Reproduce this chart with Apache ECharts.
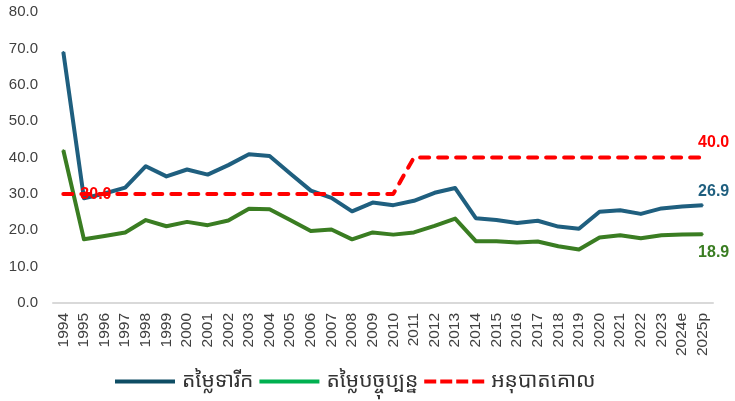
<!DOCTYPE html>
<html><head><meta charset="utf-8">
<script src="https://cdn.jsdelivr.net/npm/echarts@6/dist/echarts.min.js"></script>
<style>html,body{margin:0;padding:0;background:#fff}#c{width:735px;height:401px}</style>
</head><body><div id="c"></div>
<script>
const categories = ['1994','1995','1996','1997','1998','1999','2000','2001','2002','2003','2004','2005','2006','2007','2008','2009','2010','2011','2012','2013','2014','2015','2016','2017','2018','2019','2020','2021','2022','2023','2024e','2025p'];
const marketValues = [69.0,28.8,30.1,31.7,37.6,34.8,36.7,35.3,37.9,40.9,40.4,35.6,30.9,28.9,25.2,27.6,26.9,28.1,30.3,31.6,23.3,22.8,22.0,22.6,21.0,20.4,25.1,25.5,24.5,26.0,26.5,26.9];
const currentValues = [42.0,17.5,18.4,19.4,22.8,21.1,22.3,21.4,22.7,25.9,25.8,22.8,19.8,20.2,17.5,19.4,18.8,19.4,21.2,23.2,17.0,17.0,16.6,16.9,15.6,14.7,18.0,18.6,17.8,18.6,18.8,18.9];
const policyValues = [30,30,30,30,30,30,30,30,30,30,30,30,30,30,30,30,30,40,40,40,40,40,40,40,40,40,40,40,40,40,40,40];
const yTicks = {min:0, max:80, interval:10};
const names = ['តម្លៃទារីក','តម្លៃបច្ចុប្បន្ន','អនុបាតគោល'];

const last = categories.length - 1;
function withLabels(values, specs){
  return values.map((v,i)=> specs[i] ? {value:v, label:specs[i]} : v);
}
const solidIcon = 'path://M0,0h60v4h-60z';
const dashIcon = 'path://M0,0h12v4h-12z M16,0h12v4h-12z M32,0h12v4h-12z M48,0h12v4h-12z';
const chart = echarts.init(document.getElementById('c'), null, {renderer:'canvas'});
const labelBase = {show:true, fontFamily:'Liberation Sans, Arial, sans-serif', fontSize:16, fontWeight:'bold', formatter:p=>Number(p.value).toFixed(1)};
chart.setOption({
  animation:false,
  grid:{left:53, right:22, top:12, bottom:98},
  legend:{
    bottom:4, left:110, itemWidth:60, itemHeight:4, itemGap:6,
    textStyle:{fontSize:21, color:'#333', fontFamily:'Noto Sans Khmer, Khmer OS, sans-serif', padding:[0,0,0,2]},
    data:[
      {name:names[0], icon:solidIcon, itemStyle:{color:'#0E4D64'}},
      {name:names[1], icon:solidIcon, itemStyle:{color:'#00B050'}},
      {name:names[2], icon:dashIcon, itemStyle:{color:'#FF0000'}}
    ]
  },
  xAxis:{
    type:'category', data:categories, boundaryGap:true,
    axisLine:{lineStyle:{color:'#D9D9D9', width:2}},
    axisTick:{show:false},
    axisLabel:{rotate:90, interval:0, fontSize:15.5, color:'#404040', fontFamily:'Liberation Sans, Arial, sans-serif', margin:10}
  },
  yAxis:{
    type:'value', min:yTicks.min, max:yTicks.max, interval:yTicks.interval,
    splitLine:{show:false}, axisLine:{show:false}, axisTick:{show:false},
    axisLabel:{fontSize:15, color:'#404040', fontFamily:'Liberation Sans, Arial, sans-serif', margin:15, formatter:v=>v.toFixed(1)}
  },
  series:[
    {name:names[0], type:'line', symbol:'circle', symbolSize:2, showSymbol:true, z:3,
     lineStyle:{color:'#1F5F7F', width:4, join:'round'}, itemStyle:{color:'#1F5F7F'},
     data:withLabels(marketValues, {[last]:Object.assign({}, labelBase, {position:'top', offset:[11,0], color:'#1F5F7F'})})},
    {name:names[1], type:'line', symbol:'circle', symbolSize:2, showSymbol:true, z:3,
     lineStyle:{color:'#3A7D22', width:4, join:'round'}, itemStyle:{color:'#3A7D22'},
     data:withLabels(currentValues, {[last]:Object.assign({}, labelBase, {position:'bottom', offset:[11,4], color:'#3A7D22'})})},
    {name:names[2], type:'line', symbol:'circle', symbolSize:0.01, showSymbol:true, z:4,
     lineStyle:{color:'#FF0000', width:4, type:[9,9], cap:'round', join:'round'}, itemStyle:{color:'#FF0000', opacity:1},
     data:withLabels(policyValues, {
       1:Object.assign({}, labelBase, {position:'inside', offset:[12,1], color:'#FF0000'}),
       [last]:Object.assign({}, labelBase, {position:'top', offset:[11,-2], color:'#FF0000'})
     })}
  ]
});
</script></body></html>
